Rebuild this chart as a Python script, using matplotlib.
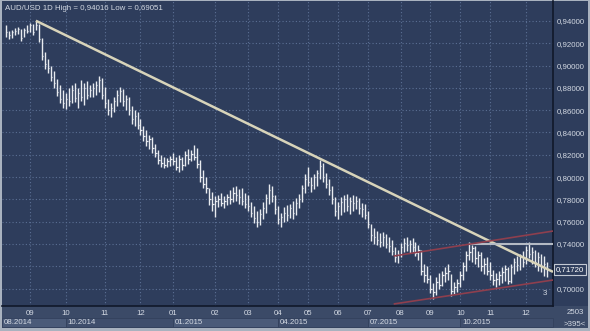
"""AUD/USD daily bar chart with trend lines (Aug 2014 - Dec 2015)."""
import matplotlib
matplotlib.use("Agg")
import matplotlib.pyplot as plt
import matplotlib.transforms as mtransforms
from matplotlib.patches import Rectangle

# one bar roughly every two trading days
HIGHS = [
    0.936, 0.931, 0.932, 0.934, 0.935, 0.933, 0.934, 0.936, 0.938, 0.937,
    0.9402, 0.937, 0.925, 0.912, 0.906, 0.900, 0.895, 0.888, 0.883, 0.878,
    0.875, 0.880, 0.883, 0.884, 0.880, 0.887, 0.884, 0.886, 0.883, 0.884,
    0.886, 0.891, 0.889, 0.881, 0.870, 0.866, 0.872, 0.878, 0.881, 0.879,
    0.874, 0.872, 0.864, 0.860, 0.858, 0.852, 0.846, 0.842, 0.838, 0.836,
    0.830, 0.824, 0.820, 0.818, 0.817, 0.819, 0.822, 0.818, 0.820, 0.818,
    0.823, 0.825, 0.824, 0.829, 0.826, 0.815, 0.806, 0.800, 0.790, 0.787,
    0.783, 0.784, 0.786, 0.783, 0.785, 0.788, 0.791, 0.792, 0.789, 0.790,
    0.786, 0.784, 0.778, 0.774, 0.770, 0.771, 0.778, 0.785, 0.794, 0.792,
    0.784, 0.774, 0.768, 0.773, 0.775, 0.776, 0.779, 0.781, 0.785, 0.793,
    0.803, 0.809, 0.800, 0.803, 0.806, 0.815, 0.813, 0.804, 0.798, 0.792,
    0.782, 0.778, 0.782, 0.784, 0.785, 0.782, 0.784, 0.783, 0.781, 0.777,
    0.776, 0.770, 0.758, 0.754, 0.752, 0.750, 0.751, 0.749, 0.746, 0.744,
    0.737, 0.735, 0.741, 0.745, 0.746, 0.744, 0.745, 0.742, 0.739, 0.735,
    0.722, 0.720, 0.712, 0.705, 0.710, 0.714, 0.716, 0.719, 0.722, 0.713,
    0.706, 0.709, 0.716, 0.724, 0.734, 0.742, 0.739, 0.738, 0.734, 0.733,
    0.727, 0.728, 0.724, 0.717, 0.714, 0.716, 0.719, 0.721, 0.719, 0.722,
    0.727, 0.729, 0.731, 0.734, 0.738, 0.742, 0.737, 0.735, 0.733, 0.731,
    0.729, 0.724,
]
LOWS = [
    0.926, 0.924, 0.925, 0.927, 0.928, 0.922, 0.926, 0.929, 0.930, 0.927,
    0.932, 0.921, 0.905, 0.897, 0.893, 0.886, 0.880, 0.873, 0.866, 0.862,
    0.861, 0.864, 0.866, 0.867, 0.862, 0.868, 0.865, 0.870, 0.872, 0.872,
    0.874, 0.876, 0.870, 0.862, 0.856, 0.854, 0.858, 0.864, 0.867, 0.864,
    0.860, 0.856, 0.848, 0.846, 0.843, 0.838, 0.832, 0.828, 0.825, 0.822,
    0.818, 0.812, 0.809, 0.808, 0.809, 0.810, 0.811, 0.806, 0.805, 0.806,
    0.810, 0.812, 0.814, 0.815, 0.808, 0.796, 0.790, 0.786, 0.775, 0.770,
    0.764, 0.773, 0.774, 0.772, 0.775, 0.776, 0.778, 0.779, 0.776, 0.775,
    0.772, 0.770, 0.764, 0.759, 0.755, 0.757, 0.762, 0.768, 0.776, 0.778,
    0.767, 0.758, 0.755, 0.760, 0.761, 0.763, 0.762, 0.766, 0.772, 0.778,
    0.786, 0.792, 0.787, 0.789, 0.792, 0.798, 0.796, 0.790, 0.784, 0.776,
    0.765, 0.762, 0.766, 0.769, 0.770, 0.767, 0.770, 0.771, 0.767, 0.764,
    0.762, 0.754, 0.743, 0.740, 0.739, 0.737, 0.738, 0.736, 0.733, 0.730,
    0.724, 0.723, 0.728, 0.733, 0.734, 0.732, 0.733, 0.729, 0.726, 0.712,
    0.706, 0.705, 0.696, 0.6905, 0.694, 0.700, 0.702, 0.706, 0.708, 0.6935,
    0.695, 0.697, 0.701, 0.708, 0.716, 0.726, 0.724, 0.722, 0.719, 0.716,
    0.713, 0.712, 0.708, 0.703, 0.701, 0.703, 0.705, 0.707, 0.704, 0.705,
    0.713, 0.716, 0.717, 0.719, 0.722, 0.727, 0.722, 0.719, 0.716, 0.715,
    0.711, 0.710,
]
CLOSES = [
    0.930, 0.927, 0.930, 0.931, 0.933, 0.925, 0.932, 0.931, 0.936, 0.930,
    0.936, 0.924, 0.909, 0.901, 0.898, 0.890, 0.884, 0.876, 0.870, 0.866,
    0.870, 0.868, 0.878, 0.871, 0.875, 0.872, 0.880, 0.874, 0.878, 0.880,
    0.883, 0.887, 0.874, 0.866, 0.860, 0.862, 0.868, 0.874, 0.877, 0.868,
    0.870, 0.860, 0.852, 0.855, 0.847, 0.842, 0.837, 0.832, 0.834, 0.826,
    0.822, 0.815, 0.813, 0.811, 0.814, 0.816, 0.814, 0.809, 0.816, 0.811,
    0.820, 0.816, 0.821, 0.818, 0.812, 0.800, 0.794, 0.790, 0.780, 0.776,
    0.779, 0.780, 0.777, 0.779, 0.782, 0.780, 0.786, 0.784, 0.782, 0.779,
    0.776, 0.774, 0.768, 0.763, 0.760, 0.767, 0.772, 0.781, 0.788, 0.783,
    0.771, 0.762, 0.764, 0.768, 0.766, 0.772, 0.768, 0.777, 0.780, 0.790,
    0.798, 0.796, 0.793, 0.800, 0.804, 0.810, 0.800, 0.794, 0.788, 0.780,
    0.770, 0.774, 0.778, 0.780, 0.774, 0.779, 0.777, 0.779, 0.772, 0.771,
    0.766, 0.758, 0.748, 0.746, 0.744, 0.742, 0.746, 0.740, 0.738, 0.734,
    0.728, 0.731, 0.737, 0.741, 0.739, 0.740, 0.737, 0.732, 0.735, 0.716,
    0.712, 0.709, 0.700, 0.697, 0.706, 0.703, 0.712, 0.714, 0.716, 0.698,
    0.701, 0.705, 0.712, 0.720, 0.730, 0.733, 0.736, 0.727, 0.730, 0.720,
    0.722, 0.716, 0.712, 0.708, 0.709, 0.712, 0.715, 0.718, 0.707, 0.719,
    0.724, 0.721, 0.728, 0.724, 0.735, 0.731, 0.733, 0.724, 0.728, 0.719,
    0.722, 0.7172,
]

# first bar of each month and its label
MONTH_BARS = [8, 20, 33, 45, 56, 70, 81, 91, 101, 111, 121, 132, 142, 152, 162, 174]
MONTH_LABELS = ["09", "10", "11", "12", "01", "02", "03", "04",
                "05", "06", "07", "08", "09", "10", "11", "12"]
# quarter boxes on the lower strip: (start bar, end bar, label)
QUARTERS = [(-1.3, 20, "08.2014"), (20, 56, "10.2014"), (56, 91, "01.2015"),
            (91, 121, "04.2015"), (121, 152, "07.2015"), (152, 183, "10.2015")]

PRICE_TICKS = [0.70, 0.72, 0.74, 0.76, 0.78, 0.80, 0.82, 0.84, 0.86, 0.88,
               0.90, 0.92, 0.94]
LAST_PRICE = 0.7172

# trend lines: ((bar, price), (bar, price))
RESISTANCE = ((10, 0.9402), (183, 0.715))
LEVEL_074 = ((155, 0.740), (183, 0.740))
CHANNEL_TOP = ((129.7, 0.7292), (183, 0.7516))
CHANNEL_BOTTOM = ((129.7, 0.6862), (183, 0.7077))

BG = "#2e3d5c"
PANEL = "#3b4a67"
TEXT = "#d2d8e2"
GRID = "#5b6f93"
FS = 5.7

W, H = 590, 331

plt.rcParams["font.family"] = ["Liberation Sans", "DejaVu Sans"]


def px(x, y):
    """pixel box -> figure fraction (x from left, y from top)"""
    return x / W, 1 - y / H


def main():
    fig = plt.figure(figsize=(W / 100, H / 100), dpi=100)
    fig.patch.set_facecolor("#a9b2bf")

    # background panels, kept behind the axes
    for (x, y, w, h, c) in [(2, 328, 551, 22, PANEL), (553, 328, 35, 327, BG),
                            (553, 328, 35, 22, PANEL)]:
        fig.add_artist(Rectangle(px(x, y), w / W, h / H, transform=fig.transFigure,
                                 facecolor=c, edgecolor="none", zorder=-5))

    x0, y0 = px(2, 306)
    ax = fig.add_axes([x0, y0, 551 / W, 305 / H])
    ax.set_facecolor(BG)
    idx = list(range(len(HIGHS)))

    ax.vlines(idx, LOWS, HIGHS, color="#e8ebf0", lw=1.0, zorder=3)
    ax.hlines(CLOSES, [i for i in idx], [i + 0.45 for i in idx],
              color="#e8ebf0", lw=0.9, zorder=3)

    for (a, b), color, lw in [(RESISTANCE, "#d8d4ba", 1.8),
                              (LEVEL_074, "#b4bac4", 1.5),
                              (CHANNEL_TOP, "#8e3f4e", 1.2),
                              (CHANNEL_BOTTOM, "#8e3f4e", 1.2)]:
        ax.plot([a[0], b[0]], [a[1], b[1]], color=color, lw=lw,
                solid_capstyle="butt", zorder=4)

    ax.set_xlim(-1.33, 183)
    ax.set_ylim(0.6844, 0.9579)

    ax.set_xticks(MONTH_BARS)
    ax.set_xticklabels(MONTH_LABELS)
    ax.set_yticks(PRICE_TICKS)
    ax.set_yticklabels(["" if abs(v - 0.72) < 1e-9 else f"{v:.5f}".replace(".", ",")
                        for v in PRICE_TICKS])
    ax.yaxis.tick_right()
    ax.tick_params(axis="both", length=0, labelsize=FS, labelcolor=TEXT)
    ax.tick_params(axis="x", pad=3)
    ax.tick_params(axis="y", pad=3)
    ax.grid(True, color=GRID, lw=0.8, linestyle=(0, (1, 2)))
    ax.set_axisbelow(True)
    for side in ["top", "left"]:
        ax.spines[side].set_visible(False)
    for side in ["right", "bottom"]:
        ax.spines[side].set_color("#10182a")
        ax.spines[side].set_linewidth(1.2)

    ax.text(3 / 551, 1 - 7 / 305, "AUD/USD 1D High = 0,94016 Low = 0,69051",
            transform=ax.transAxes, fontsize=FS, color=TEXT, va="center")
    ax.text(180.2, 0.6955, "3", fontsize=FS, color=TEXT, ha="center", va="center")

    # last price box on the right scale
    tr = mtransforms.blended_transform_factory(fig.transFigure, ax.transData)
    fig.text(556 / W, LAST_PRICE, f"{LAST_PRICE:.5f}".replace(".", ","),
             transform=tr, fontsize=FS, color="white", va="center",
             bbox=dict(boxstyle="square,pad=0.2", facecolor=BG,
                       edgecolor="#c3c9d3", lw=0.8))

    # quarter boxes under the month labels
    trq = mtransforms.blended_transform_factory(ax.transData, fig.transFigure)
    by = 1 - 327 / H
    bh = 9 / H
    for k, (a, b, label) in enumerate(QUARTERS):
        fc = "#4b5b79" if k % 2 == 0 else "#3f4e6c"
        ax.add_patch(Rectangle((a, by), b - a, bh, transform=trq, clip_on=False,
                               facecolor=fc, edgecolor="#33415d", lw=0.6))
        ax.text(a + 0.6, by + bh / 2, label, transform=trq, fontsize=FS,
                color=TEXT, va="center", clip_on=False)

    fig.text(575 / W, 1 - 313 / H, "2503", fontsize=FS, color=TEXT,
             ha="center", va="center")
    fig.text(575 / W, 1 - 324 / H, ">395<", fontsize=FS, color=TEXT,
             ha="center", va="center")

    fig.savefig("out.png", dpi=100, facecolor=fig.get_facecolor())
    plt.close(fig)


if __name__ == "__main__":
    main()
